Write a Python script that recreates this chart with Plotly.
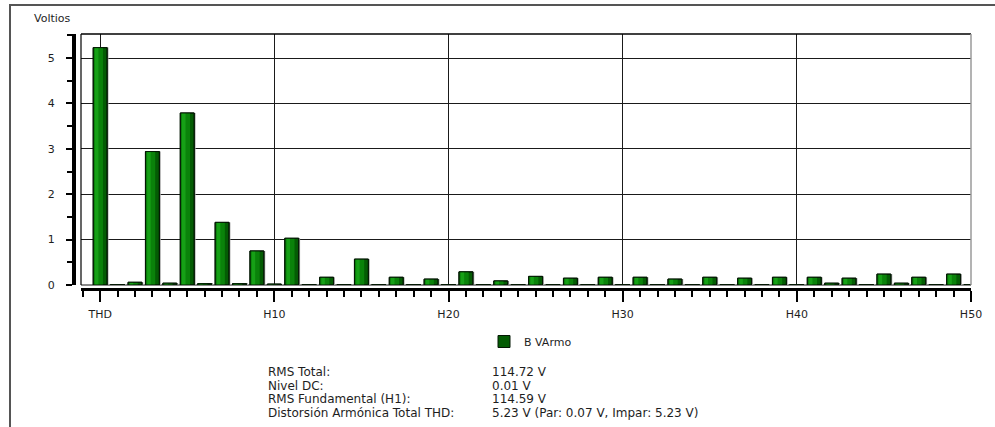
import plotly.graph_objects as go

# Harmonic spectrum categories: THD, DC level, then H2..H50
categories = ["THD", "DC"] + [f"H{n}" for n in range(2, 51)]

# Amplitude (V) per category
volts = [
    5.23, 0.01, 0.06, 2.94, 0.04, 3.79, 0.03, 1.38, 0.03, 0.75,
    0.02, 1.03, 0.01, 0.17, 0.01, 0.57, 0.01, 0.17, 0.01, 0.13,
    0.01, 0.29, 0.01, 0.09, 0.01, 0.19, 0.01, 0.15, 0.01, 0.17,
    0.01, 0.17, 0.01, 0.13, 0.01, 0.17, 0.01, 0.15, 0.01, 0.17,
    0.01, 0.17, 0.04, 0.15, 0.01, 0.24, 0.04, 0.17, 0.01, 0.24,
    0.01,
]

tick_labels = ["THD", "H10", "H20", "H30", "H40", "H50"]
tick_positions = [categories.index(t) for t in tick_labels]
x_pos = list(range(len(categories)))

summary_labels = ["RMS Total:", "Nivel DC:", "RMS Fundamental (H1):",
                  "Distorsión Armónica Total THD:"]
summary_values = ["114.72 V", "0.01 V", "114.59 V",
                  "5.23 V (Par: 0.07 V, Impar: 5.23 V)"]

series_name = "B VArmo"

W, H = 995, 427
L, R, T, B = 74, 24, 34, 138
PW, PH = W - L - R, H - T - B


def px_x(px):
    return (px - L) / PW


def px_y(py):
    return (H - B - py) / PH


FONT = "DejaVu Sans, Verdana, sans-serif"
TXT = "#1e1e1e"

fig = go.Figure()

# soft drop shadow to the right of each bar
fig.add_trace(go.Bar(
    x=x_pos, y=volts, width=0.8, offset=-0.32,
    marker=dict(color="#a8a8a8", line=dict(width=0)),
    showlegend=False, hoverinfo="skip",
))
# base bar with outline (legend entry)
fig.add_trace(go.Bar(
    x=x_pos, y=volts, name=series_name, width=0.8, offset=-0.4,
    marker=dict(color="#045c04", line=dict(color="#041804", width=1)),
    showlegend=True, hoverinfo="skip",
))
# shading bands: mid green and a bright strip on the left
fig.add_trace(go.Bar(
    x=x_pos, y=volts, width=0.52, offset=-0.36,
    marker=dict(color="#0a820a", line=dict(width=0)),
    showlegend=False, hoverinfo="skip",
))
fig.add_trace(go.Bar(
    x=x_pos, y=volts, width=0.2, offset=-0.3,
    marker=dict(color="#16a016", line=dict(width=0)),
    showlegend=False, hoverinfo="skip",
))
# outline redrawn on top
fig.add_trace(go.Bar(
    x=x_pos, y=volts, width=0.8, offset=-0.4,
    marker=dict(color="rgba(0,0,0,0)", line=dict(color="#041804", width=1)),
    showlegend=False, hoverinfo="skip",
))

y_bottom = px_y(285)
x_left = px_x(81)

fig.update_layout(
    width=W, height=H,
    margin=dict(l=L, r=R, t=T, b=B, pad=0),
    paper_bgcolor="white", plot_bgcolor="white",
    barmode="overlay",
    font=dict(family=FONT, size=11, color=TXT),
    xaxis=dict(
        domain=[x_left, 1], anchor="free", position=0,
        range=[-1.1, 50], tickmode="array",
        tickvals=tick_positions, ticktext=tick_labels,
        showline=True, linecolor="black", linewidth=3,
        ticks="outside", ticklen=11, tickwidth=1.5, tickcolor="black",
        ticklabelstandoff=3,
        showgrid=True, gridcolor="#1a1a1a", gridwidth=1,
        minor=dict(dtick=1, tick0=0, ticks="outside", ticklen=6,
                   tickwidth=1.5, tickcolor="black", showgrid=False),
        zeroline=False, fixedrange=True,
        tickfont=dict(family=FONT, size=11, color=TXT),
    ),
    yaxis=dict(
        domain=[y_bottom, 1], anchor="free", position=0,
        range=[0, 5.53], dtick=1, tick0=0,
        showline=True, linecolor="black", linewidth=4,
        ticks="outside", ticklen=6, tickwidth=1.5, tickcolor="black",
        ticklabelstandoff=9,
        showgrid=True, gridcolor="#1a1a1a", gridwidth=1,
        minor=dict(dtick=0.5, ticks="outside", ticklen=5,
                   tickwidth=1.5, tickcolor="black", showgrid=False),
        zeroline=True, zerolinecolor="#8a8a8a", zerolinewidth=1.5,
        fixedrange=True,
        tickfont=dict(family=FONT, size=11, color=TXT),
    ),
    legend=dict(
        orientation="h", x=px_x(484), y=px_y(327),
        xanchor="left", yanchor="top",
        bgcolor="rgba(0,0,0,0)", borderwidth=0,
        font=dict(family=FONT, size=11, color=TXT),
    ),
)

shapes = [
    # outer panel border
    dict(type="rect", xref="paper", yref="paper",
         x0=px_x(10), y0=px_y(5), x1=px_x(1005), y1=px_y(440),
         line=dict(color="#555555", width=2), fillcolor="rgba(0,0,0,0)",
         layer="below"),
    # plot frame
    dict(type="line", xref="x domain", yref="y domain",
         x0=0, y0=0, x1=0, y1=1, line=dict(color="black", width=1.2)),
    dict(type="line", xref="x domain", yref="y domain",
         x0=0, y0=1, x1=1, y1=1, line=dict(color="black", width=1.5)),
    dict(type="line", xref="x domain", yref="y domain",
         x0=1, y0=0, x1=1, y1=1, line=dict(color="#9a9a9a", width=1.5)),
]

annotations = [
    dict(text="Voltios", xref="paper", yref="paper",
         x=px_x(32), y=px_y(19), xanchor="left", yanchor="middle",
         showarrow=False, font=dict(family=FONT, size=11, color=TXT)),
]

row_y = [372, 386, 399, 413]
for lab, val, ry in zip(summary_labels, summary_values, row_y):
    annotations.append(dict(
        text=lab, xref="paper", yref="paper", x=px_x(266), y=px_y(ry),
        xanchor="left", yanchor="middle", showarrow=False,
        font=dict(family=FONT, size=12, color=TXT)))
    annotations.append(dict(
        text=val, xref="paper", yref="paper", x=px_x(490), y=px_y(ry),
        xanchor="left", yanchor="middle", showarrow=False,
        font=dict(family=FONT, size=12, color=TXT)))

fig.update_layout(shapes=shapes, annotations=annotations)

fig.write_html("out.html")
